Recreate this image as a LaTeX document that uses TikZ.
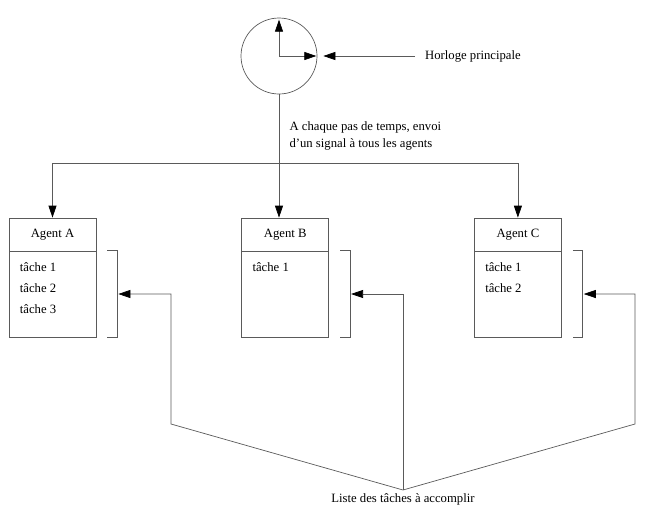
\documentclass[tikz,border=0pt]{standalone}
\usepackage{fontspec}
\setmainfont{Liberation Serif}
\definecolor{line-gray}{HTML}{5A5A5A}
\usetikzlibrary{arrows.meta,positioning}

\begin{document}
\begin{tikzpicture}[x=1pt, y=-1pt, node distance=-0.7pt and 145pt,
  font=\fontsize{12.7}{15}\selectfont,
  agent/.style={rectangle, draw=line-gray, line width=0.7pt,
                minimum width=87pt, minimum height=33pt, inner sep=0pt},
  tasklist/.style={rectangle, draw=line-gray, line width=0.7pt,
                   minimum width=87pt, minimum height=86pt, inner sep=0pt},
  tasks/.style={anchor=north west, align=left, inner sep=0pt,
                font=\fontsize{12.7}{21}\selectfont},
  bracket/.style={draw=line-gray, line width=0.7pt},
  arr/.style={-{Triangle[length=12pt,width=8pt,color=black]}, draw=line-gray, line width=0.7pt}]

  \useasboundingbox (0,0) rectangle (645,523);

  % horloge
  \node[circle, draw=line-gray, line width=0.7pt, minimum size=76pt, inner sep=0pt] (clock) at (279,56) {};
  \draw[arr] (clock.center) -- ([yshift=-2pt]clock.north);
  \draw[arr] (clock.center) -- ([xshift=-1pt]clock.east);
  \node[anchor=west, inner xsep=10pt] (horloge) at (415,56) {Horloge principale};
  \draw[arr] (horloge.west) -- ([xshift=6pt]clock.east);

  % agents
  \node[agent] (agentA) at (52.5,234.5) {Agent A};
  \node[agent, right=of agentA] (agentB) {Agent B};
  \node[agent, right=of agentB] (agentC) {Agent C};
  \node[tasklist, below=of agentA] (listA) {};
  \node[tasklist, below=of agentB] (listB) {};
  \node[tasklist, below=of agentC] (listC) {};
  \node[tasks] (tasksA) at ([xshift=11pt,yshift=-12pt]listA.north west) {tâche 1\\tâche 2\\tâche 3};
  \node[tasks] (tasksB) at ([xshift=11pt,yshift=-12pt]listB.north west) {tâche 1};
  \node[tasks] (tasksC) at ([xshift=11pt,yshift=-12pt]listC.north west) {tâche 1\\tâche 2};
  \foreach \a in {A,B,C}
    \draw[bracket] ([xshift=11pt]list\a.north east) -- ([xshift=21pt]list\a.north east)
      -- ([xshift=21pt]list\a.south east) -- ([xshift=11pt]list\a.south east);

  % signal
  \node[anchor=west, align=left, font=\fontsize{12.7}{17}\selectfont] (signal) at (286,136)
    {A chaque pas de temps, envoi\\d'un signal à tous les agents};
  \coordinate (split) at ([yshift=-69pt]clock.south);
  \draw[arr] (clock.south) -- (clock.south |- agentB.north);
  \draw[arr] (split) -| (agentA.north);
  \draw[arr] (split) -| (agentC.north);

  % liste des taches
  \node[anchor=north] (liste) at (403,490) {Liste des tâches à accomplir};
  \coordinate (cornerA) at (171,424);
  \coordinate (cornerC) at (635,424);
  \draw[arr] (liste.north) -- (cornerA) |- ([xshift=22pt]listA.east);
  \draw[arr] (liste.north) |- ([xshift=22pt]listB.east);
  \draw[arr] (liste.north) -- (cornerC) |- ([xshift=22pt]listC.east);

\end{tikzpicture}
\end{document}
